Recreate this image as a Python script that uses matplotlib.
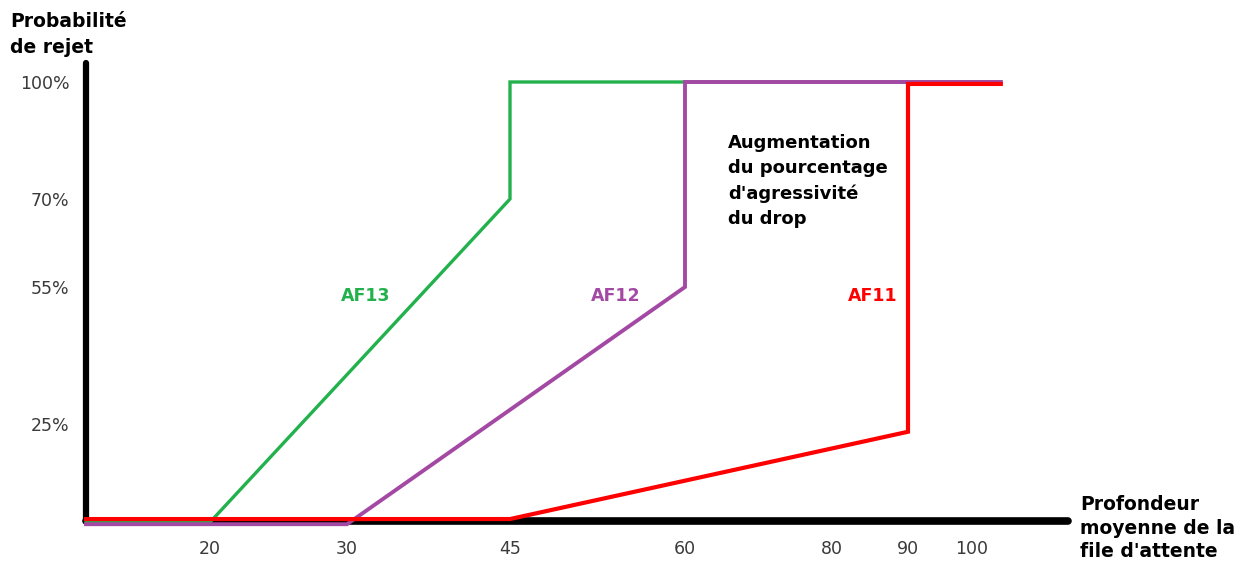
import numpy as np
import matplotlib
matplotlib.use("Agg")
import matplotlib.pyplot as plt

plt.rcParams["font.family"] = ["DejaVu Sans"]

# data
x_ticks = [20, 30, 45, 60, 80, 90, 100]
y_ticks = [25, 55, 70, 100]
y_tick_labels = ["25%", "55%", "70%", "100%"]

af13_x = [0, 20, 45, 45, 103]
af13_y = [-0.3, -0.3, 70, 100, 100]
af12_x = [0, 30, 60, 60, 103]
af12_y = [-0.8, -0.8, 55, 100, 100]
af11_x = [0, 45, 90, 90, 103]
af11_y = [0.5, 0.5, 23, 99.5, 99.5]

# the schematic is not drawn to scale: piecewise axis mapping
X_VALS = [0, 20, 30, 45, 60, 80, 90, 100, 110]
X_POS = [86, 210, 347, 510, 685, 832, 908, 972, 1068]
Y_VALS = [-2, 0, 25, 55, 70, 100, 106]
Y_POS = [-529, -521, -424, -287, -199, -82, -63]

W, H = 1247, 561
fig = plt.figure(figsize=(W / 100, H / 100), dpi=100)
ax = fig.add_axes([86 / W, (H - 521) / H, (1068 - 86) / W, (521 - 63) / H])

ax.set_xscale("function", functions=(lambda v: np.interp(v, X_VALS, X_POS),
                                     lambda p: np.interp(p, X_POS, X_VALS)))
ax.set_yscale("function", functions=(lambda v: np.interp(v, Y_VALS, Y_POS),
                                     lambda p: np.interp(p, Y_POS, Y_VALS)))
ax.set_xlim(0, 110)
ax.set_ylim(0, 106)

GREEN, PURPLE, RED = "#22b14c", "#a349a4", "#ff0000"
ax.plot(af13_x, af13_y, color=GREEN, lw=2.4, zorder=4, clip_on=False, solid_joinstyle="miter")
ax.plot(af12_x, af12_y, color=PURPLE, lw=2.8, zorder=5, clip_on=False, solid_joinstyle="miter")
ax.plot(af11_x, af11_y, color=RED, lw=3.0, zorder=6, clip_on=False, solid_joinstyle="miter")

for s in ["top", "right"]:
    ax.spines[s].set_visible(False)
ax.spines["left"].set_linewidth(4.5)
ax.spines["bottom"].set_linewidth(5.5)
for s in ["left", "bottom"]:
    ax.spines[s].set_capstyle("round")
    ax.spines[s].set_zorder(3)

ax.set_xticks(x_ticks)
ax.set_xticklabels([str(v) for v in x_ticks])
ax.set_yticks(y_ticks)
ax.set_yticklabels(y_tick_labels)
ax.xaxis.set_minor_locator(matplotlib.ticker.NullLocator())
ax.yaxis.set_minor_locator(matplotlib.ticker.NullLocator())
ax.tick_params(axis="both", length=0, labelsize=12.5, labelcolor="#3a3a3a")
ax.tick_params(axis="x", pad=14)
ax.tick_params(axis="y", pad=12)

ax.text(31.7, 53, "AF13", color=GREEN, fontsize=12.5, fontweight="bold", ha="center", va="center")
ax.text(54.1, 53, "AF12", color=PURPLE, fontsize=12.5, fontweight="bold", ha="center", va="center")
ax.text(85.3, 53, "AF11", color=RED, fontsize=12.5, fontweight="bold", ha="center", va="center")

ax.text(65.9, 86.6, "Augmentation\ndu pourcentage\nd'agressivité\ndu drop", fontsize=13,
        fontweight="bold", ha="left", va="top", linespacing=1.5)

fig.text(10 / W, 1 - 12 / H, "Probabilité\nde rejet", fontsize=13.5, fontweight="bold",
         ha="left", va="top", linespacing=1.45)
fig.text(1080 / W, 1 - 495 / H, "Profondeur\nmoyenne de la\nfile d'attente", fontsize=13.5,
         fontweight="bold", ha="left", va="top", linespacing=1.3)

fig.savefig("out.png", dpi=100, facecolor="white")
